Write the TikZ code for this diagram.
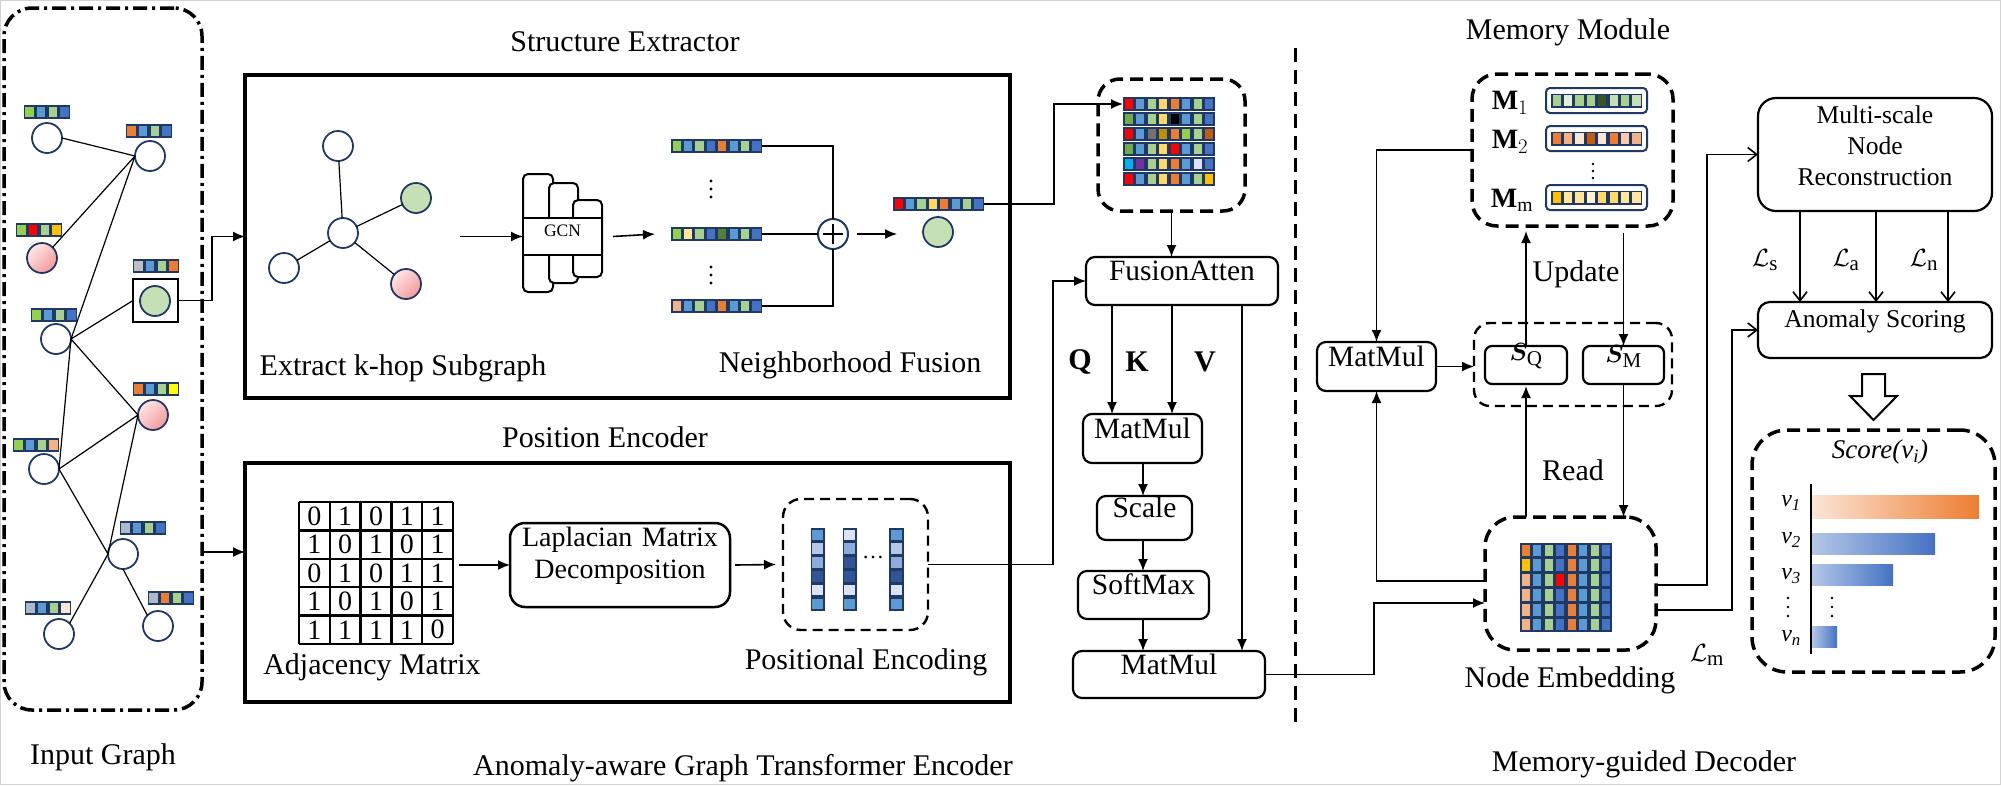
\documentclass[tikz,border=0pt]{standalone}
\usepackage{fontspec}
\usepackage{bm}
\setmainfont{Liberation Serif}
\usetikzlibrary{arrows.meta,fit}
\definecolor{NV}{HTML}{203864}
\definecolor{G1}{HTML}{92D050}
\definecolor{BL}{HTML}{5B9BD5}
\definecolor{LG}{HTML}{A9D18E}
\definecolor{DB}{HTML}{4472C4}
\definecolor{OR}{HTML}{ED7D31}
\definecolor{RD}{HTML}{FF0000}
\definecolor{GD}{HTML}{FFC000}
\definecolor{GR}{HTML}{BFBFBF}
\definecolor{YL}{HTML}{FFFF00}
\definecolor{PE}{HTML}{F4B183}
\definecolor{GB}{HTML}{ADB9CA}
\definecolor{LP}{HTML}{FBE5D6}
\definecolor{LY}{HTML}{FFE699}
\definecolor{DG}{HTML}{548235}
\definecolor{MG}{HTML}{70AD47}
\definecolor{Y2}{HTML}{FFD966}
\definecolor{GY}{HTML}{767171}
\definecolor{OC}{HTML}{BF9000}
\definecolor{BO}{HTML}{C55A11}
\definecolor{CY}{HTML}{00B0F0}
\definecolor{PU}{HTML}{7030A0}
\definecolor{PB}{HTML}{DAE3F3}
\definecolor{LB}{HTML}{B4C7E7}
\definecolor{MB}{HTML}{8FAADC}
\definecolor{NB}{HTML}{2F5597}
\definecolor{GC}{HTML}{C5E0B4}
\definecolor{G2}{HTML}{E2F0D9}
\definecolor{G3}{HTML}{375623}
\definecolor{P2}{HTML}{F8CBAD}
\definecolor{Y3}{HTML}{FFF2CC}
\definecolor{PK1}{HTML}{FFE6E6}
\definecolor{PK2}{HTML}{F29A9A}
\newcommand{\fsz}[2]{\fontsize{#1}{#2}\selectfont}
\newcommand{\cellrow}[5]{%
  \foreach \cc [count=\ii from 0] in {#5} {
    \fill[NV] ({#1+\ii*#3},#2) rectangle ({#1+(\ii+1)*#3},{#2+#4});
    \fill[\cc] ({#1+\ii*#3+1.6},{#2+1.6}) rectangle ({#1+(\ii+1)*#3-1.6},{#2+#4-1.6});
  }}
\newcommand{\cellcol}[5]{%
  \foreach \cc [count=\ii from 0] in {#5} {
    \fill[NV] (#1,{#2+\ii*#4}) rectangle ({#1+#3},{#2+(\ii+1)*#4});
    \fill[\cc] ({#1+1.6},{#2+\ii*#4+1.6}) rectangle ({#1+#3-1.6},{#2+(\ii+1)*#4-1.6});
  }}
\tikzset{
  every node/.style={inner sep=0pt, outer sep=0pt},
  lbl/.style={font=\fsz{30}{36}},
  gnode/.style={circle, draw=NV, line width=1.8pt, minimum size=30pt, fill=white},
  pinkn/.style={circle, draw=NV, line width=1.8pt, minimum size=30pt, top color=PK1, bottom color=PK2, shading angle=45},
  greenn/.style={gnode, fill=GC},
  gedge/.style={line width=1.2pt},
  cline/.style={line width=1.6pt},
  arr/.style={cline, -{Latex[length=12pt,width=10pt]}},
  oarr/.style={cline, -{Straight Barb[length=9pt,width=14pt]}},
  bigbox/.style={draw, line width=3.5pt},
  rbox/.style={draw, rounded corners=9pt, line width=2.2pt, fill=white, font=\fsz{29.5}{35}},
  dbox/.style={draw, line width=3.5pt, dash pattern=on 13pt off 7pt, rounded corners=25pt},
  tdbox/.style={draw, line width=2.4pt, dash pattern=on 10pt off 6pt, rounded corners=16pt},
  igbox/.style={draw, line width=3.5pt, dash pattern=on 14pt off 5pt on 3pt off 5pt, rounded corners=28pt},
  gcnr/.style={draw, line width=2pt, fill=white, rounded corners=5pt},
  dotn/.style={circle, fill=black, minimum size=3.2pt},
}
\begin{document}
\begin{tikzpicture}[x=1pt,y=-1pt]
\useasboundingbox (0,0) rectangle (2001,785);
\draw[gray!35, line width=1.2pt] (0.6,0.6) rectangle (2000.4,784.4);

% ================= Input graph =================
\node[igbox, fit={(4,8) (202,710)}] (ig) {};
\node[lbl] (tig) at (103,757) {Input Graph};
\node[gnode] (n1) at (47,138) {};
\node[gnode] (n2) at (150,156) {};
\node[pinkn] (n3) at (42,258) {};
\node[greenn] (n4) at (155,301) {};
\node[draw, line width=2pt, minimum width=45pt, minimum height=43pt] (sqb) at (155.5,300.5) {};
\node[gnode] (n5) at (56,339) {};
\node[pinkn] (n6) at (153,415) {};
\node[gnode] (n7) at (44,469) {};
\node[gnode] (n8) at (123,554) {};
\node[gnode] (n9) at (59,634) {};
\node[gnode] (n10) at (158,626) {};
\draw[gedge] (n1.east)--(n2.west) (n3.north east)--(n2.west) (n5.east)--(n2.west)
  (n5.east)--(sqb.west) (n5.east)--(n6.west) (n5.east)--(n7.east)
  (n7.east)--(n6.west) (n7.east)--(n8.west) (n6.west)--(n8.west)
  (n9.north east)--(n8.west) (n8.south)--(n10.north west);
\cellrow{23.5}{105}{11.7}{14}{G1,BL,LG,DB}
\cellrow{125.5}{124}{11.7}{14}{OR,BL,LG,DB}
\cellrow{15.5}{223}{11.7}{14}{G1,RD,LG,GD}
\cellrow{132.5}{259}{11.7}{14}{GR,BL,LG,OR}
\cellrow{30.5}{308}{11.7}{14}{G1,BL,LG,DB}
\cellrow{132.5}{382}{11.7}{14}{OR,BL,LG,YL}
\cellrow{12.5}{438}{11.7}{14}{G1,BL,LG,PE}
\cellrow{119.5}{521}{11.7}{14}{GB,BL,LG,DB}
\cellrow{24.5}{601}{11.7}{14}{GB,BL,LG,LP}
\cellrow{147.5}{591}{11.7}{14}{GB,OR,LG,DB}

% ================= Structure extractor =================
\node[bigbox, fit={(245,75) (1010,398)}] (sbox) {};
\node[lbl] (tse) at (625,42) {Structure Extractor};
\draw[arr] (sqb.east) -- ++(34,0) |- (sbox.west);
\node[gnode] (s0) at (343,233) {};
\node[gnode] (s1) at (338,146) {};
\node[greenn] (s2) at (416,198) {};
\node[gnode] (s3) at (284,268) {};
\node[pinkn] (s4) at (406,284) {};
\draw[gedge] (s0)--(s1) (s0)--(s2) (s0)--(s3) (s0)--(s4);
\node[lbl] (tks) at (403,368) {Extract k-hop Subgraph};
\coordinate (sgo) at (460,236.5);
\draw[gcnr] (523,174) rectangle (553,292);
\draw[gcnr] (549,183) rectangle (578,283);
\draw[gcnr] (573,200) rectangle (602,277);
\node[draw, line width=2pt, fill=white, fit={(523,218) (602,255)}, font=\fsz{17.5}{20}] (gcn) {GCN};
\draw[arr] (sgo) -- (gcn.west);
\node[fit={(671,139) (762.2,153)}] (b1) {};
\node[fit={(671,227) (762.2,241)}] (b2) {};
\node[fit={(671,299) (762.2,313)}] (b3) {};
\cellrow{671}{139}{11.4}{14}{G1,BL,LG,DB,OR,BL,LG,DB}
\cellrow{671}{227}{11.4}{14}{G1,LY,LG,DB,DG,BL,LG,DB}
\cellrow{671}{299}{11.4}{14}{PE,BL,LG,DB,OR,BL,LG,DB}
\draw[arr] ([xshift=11pt]gcn.east) -- ([xshift=-16pt]b2.west);
\foreach \yy [count=\k] in {181,189,197,267,275,283} {\node[dotn] (vd\k) at (711,\yy) {};}
\node[circle, draw=NV, line width=2pt, minimum size=30pt, fill=white] (plus) at (833,234) {};
\draw[line width=1.5pt] (plus.center) ++(-10,0) -- ++(20,0) (plus.center) ++(0,-10) -- ++(0,20);
\draw[cline] (b1.east) -| (plus.north);
\draw[cline] (b2.east) -- (plus.west);
\draw[cline] (b3.east) -| (plus.south);
\node[greenn] (oc) at (938,232) {};
\node[fit={(893,197) (984.2,211)}] (ob) {};
\cellrow{893}{197}{11.4}{14}{RD,BL,LG,Y2,OR,BL,LG,DB}
\draw[arr] ([xshift=9pt]plus.east) -- ([xshift=-26pt]oc.west |- plus.east);
\node[lbl] (tnf) at (850,365) {Neighborhood Fusion};

% ================= Position encoder =================
\node[bigbox, fit={(245,463) (1010,702)}] (pbox) {};
\node[lbl] (tpe) at (605,437) {Position Encoder};
\draw[arr] (ig.east |- 0,552) -- (pbox.west |- 0,552);
\node[fit={(299,502) (453,644)}] (adj) {};
\foreach \i in {0,...,5} {
  \draw[line width=2.5pt] ({299+30.8*\i},502) -- ({299+30.8*\i},644);
  \draw[line width=2.5pt] (299,{502+28.4*\i}) -- (453,{502+28.4*\i});
}
\foreach \row [count=\r from 0] in {{0,1,0,1,1},{1,0,1,0,1},{0,1,0,1,1},{1,0,1,0,1},{1,1,1,1,0}} {
  \foreach \v [count=\c from 0] in \row {
    \node[font=\fsz{28}{32}] (d\r\c) at ({299+30.8*(\c+0.5)},{502+28.4*(\r+0.5)}) {\v};
  }
}
\node[lbl] (tam) at (372,667) {Adjacency Matrix};
\node[draw, line width=2.5pt, rounded corners=15pt, fit={(510,523) (730,607)}, align=center, font=\fsz{28}{32}] (lap) {Laplacian Matrix\\Decomposition};
\draw[arr] ([xshift=6pt]adj.east |- lap.west) -- (lap.west);
\node[tdbox, rounded corners=18pt, fit={(783,499) (928,630)}] (pe) {};
\draw[arr] ([xshift=5pt]lap.east) -- ([xshift=-7pt]pe.west);
\cellcol{810.5}{528}{14.5}{13.8}{BL,LB,MB,NB,PB,BL}
\cellcol{842.5}{528}{14.5}{13.8}{PB,MB,NB,NB,PB,BL}
\cellcol{889}{528}{14.5}{13.8}{BL,LB,MB,NB,PB,BL}
\node[font=\fsz{22}{24}] (pdots) at (873,558) {\dots};
\node[lbl] (tpenc) at (866,662) {Positional Encoding};

% ================= Attention column =================
\node[dbox, rounded corners=22pt, fit={(1098,79) (1245,211)}] (fm) {};
\node[fit={(1123,97) (1215,186)}] (fmat) {};
\cellrow{1123}{97}{11.5}{14}{RD,BL,LG,Y2,OR,BL,LG,DB}
\cellrow{1123}{112}{11.5}{14}{MG,BL,LG,Y2,black,BL,LG,DB}
\cellrow{1123}{127}{11.5}{14}{RD,BL,GY,OC,OR,G1,LG,BO}
\cellrow{1123}{142}{11.5}{14}{MG,BL,LG,Y2,RD,BL,LG,DB}
\cellrow{1123}{157}{11.5}{14}{CY,PU,LG,Y2,OR,BL,PB,DB}
\cellrow{1123}{172}{11.5}{14}{RD,BL,LG,Y2,OR,BL,LG,GD}
\draw[arr] (ob.east) -- (1054,204) |- ([yshift=-7pt]fmat.north west);
\node[rbox, fit={(1086,257) (1278,305)}] (fa) {FusionAtten};
\draw[arr] (fm.south) -- (fm.south |- fa.north);
\draw[arr] (pe.east) -- (1053,564.5) |- (fa.west);
\node[rbox, fit={(1083,414) (1202,463)}] (mm1) {MatMul};
\node[rbox, fit={(1097,496) (1192,540)}] (sc) {Scale};
\node[rbox, fit={(1078,571) (1209,619)}] (sm) {SoftMax};
\node[rbox, fit={(1073,651) (1265,698)}] (mm2) {MatMul};
\draw[arr] (fa.south -| 1112,0) -- (mm1.north -| 1112,0);
\draw[arr] (fa.south -| 1172,0) -- (mm1.north -| 1172,0);
\draw[arr] (fa.south -| 1242,0) -- (mm2.north -| 1242,0);
\node[lbl, font=\fsz{30}{36}\bfseries] (tq) at (1080,362) {Q};
\node[lbl, font=\fsz{30}{36}\bfseries] (tk) at (1137,362) {K};
\node[lbl, font=\fsz{30}{36}\bfseries] (tv) at (1205,362) {V};
\draw[arr] (mm1.south -| 1143,0) -- (sc.north -| 1143,0);
\draw[arr] (sc.south -| 1143,0) -- (sm.north -| 1143,0);
\draw[arr] (sm.south -| 1143,0) -- (mm2.north -| 1143,0);

% divider
\draw[line width=3pt, dash pattern=on 14pt off 8pt] (1295,48) -- (1295,725);
\node[lbl] (tenc) at (743,768) {Anomaly-aware Graph Transformer Encoder};
\node[lbl] (tdec) at (1644,764) {Memory-guided Decoder};

% ================= Decoder =================
\node[lbl] (tmm) at (1568,32) {Memory Module};
\node[dbox, fit={(1472,74) (1673,226)}] (mem) {};
\node[font=\fsz{28}{32}] (lm1) at (1510,103) {$\mathbf{M}_{1}$};
\node[font=\fsz{28}{32}] (lm2) at (1510,142) {$\mathbf{M}_{2}$};
\node[font=\fsz{28}{32}] (lmm) at (1512,200) {$\mathbf{M}_{\mathrm{m}}$};
\node[draw=NV, line width=2pt, rounded corners=4pt, fill=white, fit={(1546,88) (1647,113)}] (mb1) {};
\node[draw=NV, line width=2pt, rounded corners=4pt, fill=white, fit={(1546,126) (1647,151)}] (mb2) {};
\node[draw=NV, line width=2pt, rounded corners=4pt, fill=white, fit={(1546,185) (1647,210)}] (mbm) {};
\cellrow{1551}{93.5}{11.4}{14}{LG,G2,LG,LG,G3,GC,LG,GC}
\cellrow{1551}{131.5}{11.4}{14}{OR,PE,LP,BO,LP,OR,P2,PE}
\cellrow{1551}{190.5}{11.4}{14}{GD,LY,LY,Y3,Y2,Y2,LY,LY}
\foreach \yy [count=\k] in {164,171,178} {\node[dotn, minimum size=2.6pt] (md\k) at (1593,\yy) {};}

\node[rbox, fit={(1317,342) (1436,391)}] (mmd) {MatMul};
\node[tdbox, fit={(1474,323) (1672,406)}] (sbx) {};
\node[rbox, rounded corners=7pt, font=\fsz{30}{36}, fit={(1485,346) (1567,384)}] (sq) {$\bm{S}_{\mathrm{Q}}$};
\node[rbox, rounded corners=7pt, font=\fsz{30}{36}, fit={(1583,346) (1664,384)}] (smn) {$\bm{S}_{\mathrm{M}}$};
\draw[arr] (mem.west) -| (mmd.north);
\draw[arr] (mmd.east) -- (mmd.east -| sbx.west);
\draw[arr] (sq.north) -- ([yshift=-5pt]sq.north |- mem.south);
\draw[arr] ([yshift=-7pt]smn.north |- mem.south) -- (smn.north);
\node[lbl] (tup) at (1576,274) {Update};

\node[dbox, rounded corners=30pt, fit={(1485,517) (1656,650)}] (ne) {};
\draw[arr] (ne.north -| sq.south) -- ([yshift=-2pt]sq.south);
\draw[arr] (smn.south) -- (smn.south |- ne.north);
\node[lbl] (trd) at (1573,470) {Read};
\fill[NV] (1520,543) rectangle (1612,632);
\cellrow{1520}{543}{11.5}{14.83}{OR,BL,LG,DB,OR,BL,LG,DB}
\cellrow{1520}{557.83}{11.5}{14.83}{GD,BL,LG,DB,OR,BL,LG,DB}
\cellrow{1520}{572.66}{11.5}{14.83}{PE,BL,LG,RD,OR,BL,LG,DB}
\cellrow{1520}{587.49}{11.5}{14.83}{PE,BL,LG,DB,OR,BL,LG,DB}
\cellrow{1520}{602.32}{11.5}{14.83}{PE,BL,LG,DB,OR,BL,LG,DB}
\cellrow{1520}{617.15}{11.5}{14.83}{PE,BL,LG,DB,OR,BL,LG,DB}
\node[lbl] (tne) at (1570,680) {Node Embedding};
\draw[arr] (ne.west |- 0,581) -| (mmd.south);
\draw[arr] (mm2.east) -- (1374,674.5) |- (ne.west |- 0,603);

% ================= Scoring =================
\node[rbox, rounded corners=18pt, align=center, font=\fsz{25.6}{31}, fit={(1758,98) (1992,211)}] (msr) {Multi-scale\\Node\\Reconstruction};
\node[rbox, rounded corners=12pt, font=\fsz{25.6}{31}, fit={(1758,302) (1992,358)}] (as) {Anomaly Scoring};
\draw[oarr] (ne.east |- 0,585) -- (1707,585) |- (msr.west);
\draw[oarr] (ne.east |- 0,610) -- (1732,610) |- (as.west);
\node[font=\fsz{30}{36}] (tlm) at (1707,655) {$\mathcal{L}_{\mathrm{m}}$};
\draw[oarr] (msr.south -| 1800,0) -- (as.north -| 1800,0);
\draw[oarr] (msr.south -| 1876,0) -- (as.north -| 1876,0);
\draw[oarr] (msr.south -| 1948,0) -- (as.north -| 1948,0);
\node[font=\fsz{30}{36}] (tls) at (1765,260) {$\mathcal{L}_{\mathrm{s}}$};
\node[font=\fsz{30}{36}] (tla) at (1846,260) {$\mathcal{L}_{\mathrm{a}}$};
\node[font=\fsz{30}{36}] (tln) at (1924,260) {$\mathcal{L}_{\mathrm{n}}$};
\draw[line width=2pt, fill=white] (1862,374) -- (1885,374) -- (1885,396) -- (1897,396) -- (1873.5,420) -- (1850,396) -- (1862,396) -- cycle;
\node[dbox, rounded corners=35pt, fit={(1752,430) (1995,672)}] (score) {};
\node[font=\fsz{27}{30}\itshape] (tsc) at (1880,452) {Score(v\textsubscript{i})};
\draw[line width=2pt] (1811,484) -- (1811,654);
\shade[left color=LP, right color=OR] (1812,495) rectangle (1979,518);
\shade[left color=LB, right color=DB] (1812,533) rectangle (1935,554);
\shade[left color=LB, right color=DB] (1812,564) rectangle (1893,585);
\shade[left color=LB, right color=DB] (1812,626) rectangle (1837,647);
\node[font=\fsz{24}{28}\itshape] (tv1) at (1791,503) {v\textsubscript{1}};
\node[font=\fsz{24}{28}\itshape] (tv2) at (1791,540) {v\textsubscript{2}};
\node[font=\fsz{24}{28}\itshape] (tv3) at (1791,576) {v\textsubscript{3}};
\node[font=\fsz{24}{28}\itshape] (tvn) at (1791,638) {v\textsubscript{n}};
\foreach \yy [count=\k] in {598,607,616} {
  \node[dotn, minimum size=2.8pt] (sdl\k) at (1788,\yy) {};
  \node[dotn, minimum size=2.8pt] (sdr\k) at (1832,\yy) {};
}
\end{tikzpicture}
\end{document}
